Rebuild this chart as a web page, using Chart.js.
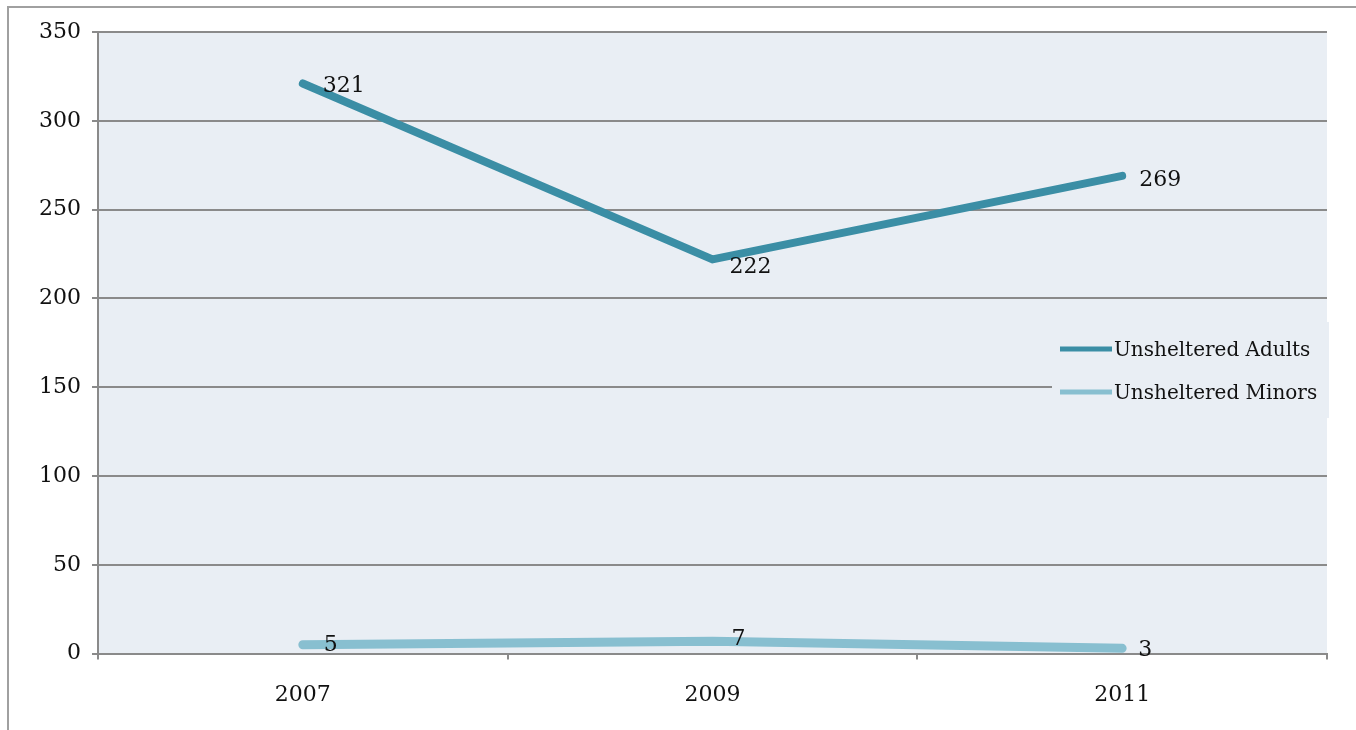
<!DOCTYPE html>
<html>
<head>
<meta charset="utf-8">
<script src="https://cdn.jsdelivr.net/npm/chart.js@4"></script>
<style>
  html, body { margin: 0; padding: 0; background: #fff; }
  #wrap { width: 1356px; height: 730px; position: relative; }
</style>
</head>
<body>
<div id="wrap"><canvas id="graphe"></canvas></div>
<script>
// données du graphique
var annees = ['2007', '2009', '2011'];
var adultes = [321, 222, 269];
var mineurs = [5, 7, 3];
var nomsSeries = ['Unsheltered Adults', 'Unsheltered Minors'];

var police = '"DejaVu Serif", "Liberation Serif", serif';

// fond de la zone de tracé + cadre extérieur
var fondPlugin = {
    id: 'fond',
    beforeDraw: function(chart) {
        var c = chart.ctx, a = chart.chartArea;
        c.save();
        c.fillStyle = '#e9eef4';
        c.fillRect(a.left, a.top, a.right - a.left, a.bottom - a.top);
        c.strokeStyle = '#a0a0a0';
        c.lineWidth = 2;
        c.beginPath();
        c.moveTo(8, 730);
        c.lineTo(8, 7);
        c.lineTo(1356, 7);
        c.stroke();
        c.restore();
    }
};

// étiquettes de valeurs à côté des points
var decalages = [
    [[41, 3], [38, 8], [38, 4]],
    [[28, 1], [26, -2], [23, 2]]
];
var etiquettesPlugin = {
    id: 'etiquettes',
    afterDatasetsDraw: function(chart) {
        var c = chart.ctx;
        c.save();
        c.font = '22px ' + police;
        c.fillStyle = '#111';
        c.textAlign = 'center';
        c.textBaseline = 'middle';
        chart.data.datasets.forEach(function(ds, i) {
            chart.getDatasetMeta(i).data.forEach(function(pt, j) {
                c.fillText(ds.data[j], pt.x + decalages[i][j][0], pt.y + decalages[i][j][1]);
            });
        });
        c.restore();
    }
};

// légende dessinée dans la zone de tracé (avec un fond qui masque la grille)
var legendePlugin = {
    id: 'legende',
    afterDraw: function(chart) {
        var c = chart.ctx, a = chart.chartArea;
        c.save();
        c.fillStyle = '#e9eef4';
        c.fillRect(1052, 322, a.right - 1052 + 2, 96);
        c.font = '20px ' + police;
        c.textBaseline = 'middle';
        chart.data.datasets.forEach(function(ds, i) {
            var y = 349 + i * 43;
            c.strokeStyle = ds.borderColor;
            c.lineWidth = 5;
            c.beginPath();
            c.moveTo(1060, y);
            c.lineTo(1112, y);
            c.stroke();
            c.fillStyle = '#111';
            c.fillText(ds.label, 1114, y + 2);
        });
        c.restore();
    }
};

var ctx = document.getElementById('graphe').getContext('2d');
var graphe = new Chart(ctx, {
    type: 'line',
    data: {
        labels: annees,
        datasets: [{
            label: nomsSeries[0],
            data: adultes,
            borderColor: '#3b8ea5',
            borderWidth: 8,
            pointRadius: 0,
            borderCapStyle: 'round',
            tension: 0
        }, {
            label: nomsSeries[1],
            data: mineurs,
            borderColor: '#88bfd0',
            borderWidth: 9,
            pointRadius: 0,
            borderCapStyle: 'round',
            tension: 0
        }]
    },
    options: {
        responsive: true,
        maintainAspectRatio: false,
        animation: false,
        layout: { padding: { left: 28, right: 29, top: 32, bottom: 0 } },
        scales: {
            x: {
                offset: true,
                grid: {
                    offset: true,
                    drawOnChartArea: false,
                    drawTicks: true,
                    tickLength: 6,
                    color: '#8a8a8a',
                    lineWidth: 2
                },
                border: { color: '#8a8a8a', width: 2 },
                ticks: {
                    color: '#111',
                    font: { family: police, size: 22 },
                    padding: 22
                }
            },
            y: {
                min: 0,
                max: 350,
                ticks: {
                    stepSize: 50,
                    color: '#111',
                    font: { family: police, size: 22 },
                    padding: 11
                },
                grid: {
                    color: '#8a8a8a',
                    lineWidth: 2,
                    tickLength: 6
                },
                border: { color: '#8a8a8a', width: 2 }
            }
        },
        plugins: {
            legend: { display: false },
            tooltip: { enabled: false }
        }
    },
    plugins: [fondPlugin, etiquettesPlugin, legendePlugin]
});
</script>
</body>
</html>
